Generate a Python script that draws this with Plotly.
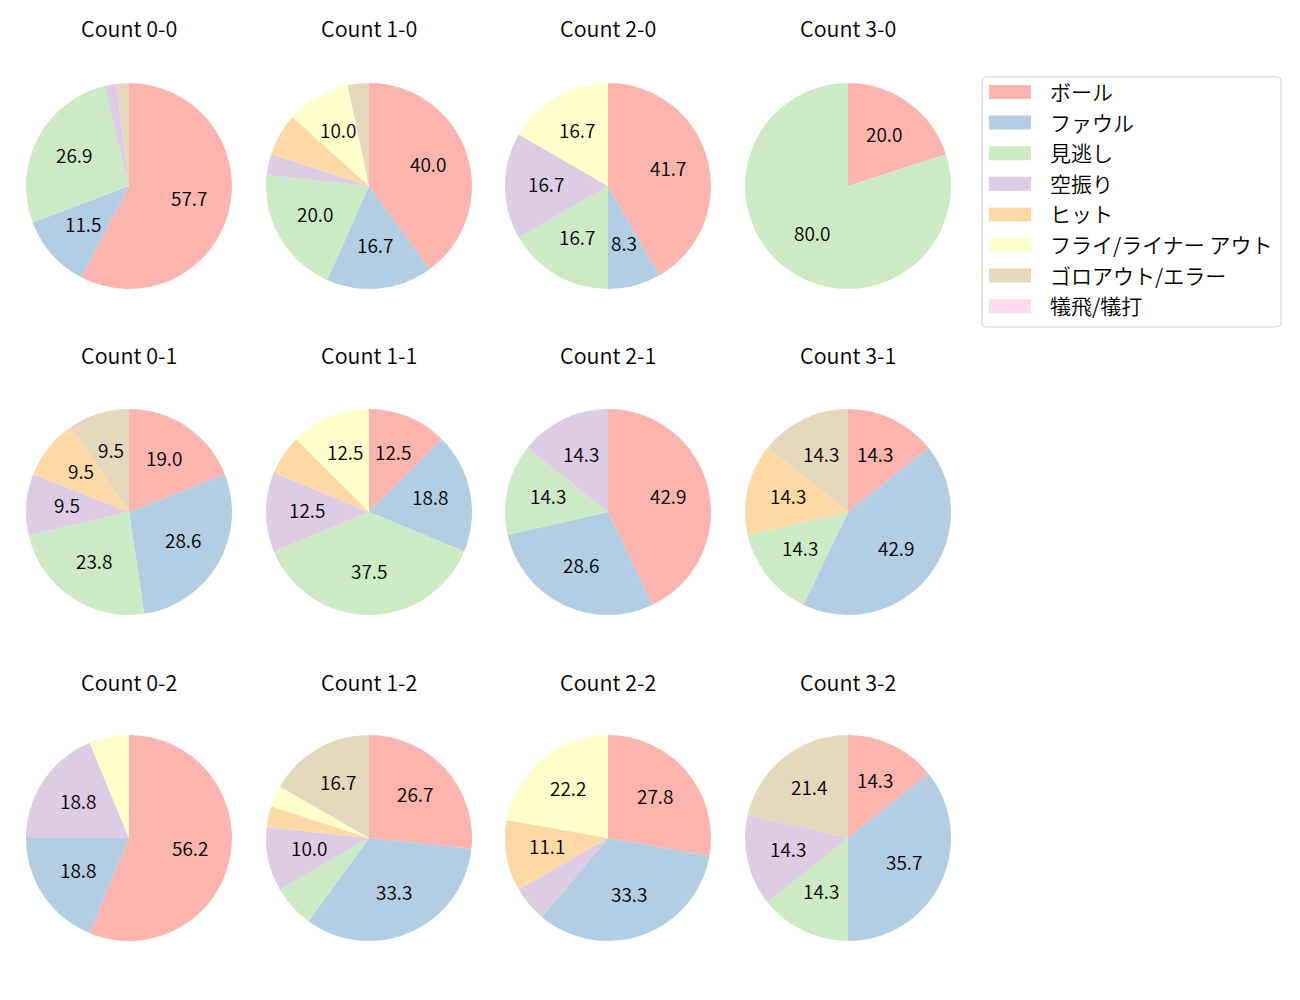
import plotly.graph_objects as go
import math

labels = ["ボール", "ファウル", "見逃し", "空振り", "ヒット", "フライ/ライナー アウト", "ゴロアウト/エラー", "犠飛/犠打"]
colors = ["#fbb4ae", "#b3cde3", "#ccebc5", "#decbe4", "#fed9a6", "#ffffcc", "#e5d8bd", "#fddaec"]

titles = ["Count 0-0", "Count 1-0", "Count 2-0", "Count 3-0",
          "Count 0-1", "Count 1-1", "Count 2-1", "Count 3-1",
          "Count 0-2", "Count 1-2", "Count 2-2", "Count 3-2"]

counts = [
    [30, 6, 14, 1, 0, 0, 1, 0],   # 0-0
    [12, 5, 6, 1, 2, 3, 1, 0],    # 1-0
    [5, 1, 2, 2, 0, 2, 0, 0],     # 2-0
    [1, 0, 4, 0, 0, 0, 0, 0],     # 3-0
    [4, 6, 5, 2, 2, 0, 2, 0],     # 0-1
    [2, 3, 6, 2, 1, 2, 0, 0],     # 1-1
    [3, 2, 1, 1, 0, 0, 0, 0],     # 2-1
    [1, 3, 1, 0, 1, 0, 1, 0],     # 3-1
    [9, 3, 0, 3, 0, 1, 0, 0],     # 0-2
    [8, 10, 2, 3, 1, 1, 5, 0],    # 1-2
    [5, 6, 0, 1, 2, 4, 0, 0],     # 2-2
    [2, 5, 2, 2, 0, 0, 3, 0],     # 3-2
]

W, H = 1300, 1000
OFF = 8  # page body margin offset
col_x = [129 - OFF, 369 - OFF, 608 - OFF, 848 - OFF]
row_y = [186 - OFF, 512 - OFF, 838 - OFF]
title_y = [27 - OFF, 354 - OFF, 681 - OFF]
R = 103
FONT = "Noto Sans CJK JP"
WEIGHT = 350
LABEL_DY = -3


def px(x):
    return x / W


def py(y):
    return 1 - y / H


fig = go.Figure()
annotations = []
for i, vals in enumerate(counts):
    r, c = divmod(i, 4)
    cx, cy = col_x[c], row_y[r]
    fig.add_trace(go.Pie(
        labels=labels, values=vals, sort=False, direction="clockwise", rotation=0,
        marker=dict(colors=colors, line=dict(width=0)),
        textinfo="none", hoverinfo="label+percent", showlegend=False,
        domain=dict(x=[px(cx - R), px(cx + R)], y=[py(cy + R), py(cy - R)]),
    ))
    annotations.append(dict(x=px(cx), y=py(title_y[r]), xref="paper", yref="paper",
                            text=titles[i], showarrow=False, xanchor="center", yanchor="middle",
                            font=dict(size=21.5, color="#000", family=FONT, weight=WEIGHT)))
    total = sum(vals)
    cum = 0
    for v in vals:
        pct = v / total * 100
        if pct >= 7:
            mid = (cum + v / 2) / total * 2 * math.pi
            ang = math.pi / 2 - mid
            x = cx + 0.6 * R * math.cos(ang)
            y = cy - 0.6 * R * math.sin(ang) + LABEL_DY
            annotations.append(dict(x=px(x), y=py(y), xref="paper", yref="paper",
                                    text=f"{pct:.1f}", showarrow=False, xanchor="center", yanchor="middle",
                                    font=dict(size=19, color="#000", family=FONT, weight=WEIGHT)))
        cum += v

# legend (manual)
shapes = []
lx0, ly0, lx1, ly1 = 982 - OFF, 77 - OFF, 1281 - OFF, 327 - OFF
rad = 4
path = (f"M {px(lx0+rad)} {py(ly0)} L {px(lx1-rad)} {py(ly0)} Q {px(lx1)} {py(ly0)} {px(lx1)} {py(ly0+rad)} "
        f"L {px(lx1)} {py(ly1-rad)} Q {px(lx1)} {py(ly1)} {px(lx1-rad)} {py(ly1)} "
        f"L {px(lx0+rad)} {py(ly1)} Q {px(lx0)} {py(ly1)} {px(lx0)} {py(ly1-rad)} "
        f"L {px(lx0)} {py(ly0+rad)} Q {px(lx0)} {py(ly0)} {px(lx0+rad)} {py(ly0)} Z")
shapes.append(dict(type="path", xref="paper", yref="paper", path=path,
                   line=dict(color="#d0d0d0", width=1), fillcolor="rgba(255,255,255,0.8)"))
for k, (lab, col) in enumerate(zip(labels, colors)):
    yc = 92 - OFF + k * 30.6
    shapes.append(dict(type="rect", xref="paper", yref="paper",
                       x0=px(989 - OFF), x1=px(1031 - OFF), y0=py(yc + 7), y1=py(yc - 7),
                       fillcolor=col, line=dict(width=0)))
    annotations.append(dict(x=px(1048 - OFF), y=py(yc - 1), xref="paper", yref="paper", text=lab,
                            showarrow=False, xanchor="left", yanchor="middle",
                            font=dict(size=21, color="#000", family=FONT, weight=WEIGHT)))

fig.update_layout(width=W, height=H, margin=dict(l=0, r=0, t=0, b=0),
                  paper_bgcolor="white", plot_bgcolor="white",
                  annotations=annotations, shapes=shapes,
                  font=dict(family=FONT))
fig.write_html("out.html")
